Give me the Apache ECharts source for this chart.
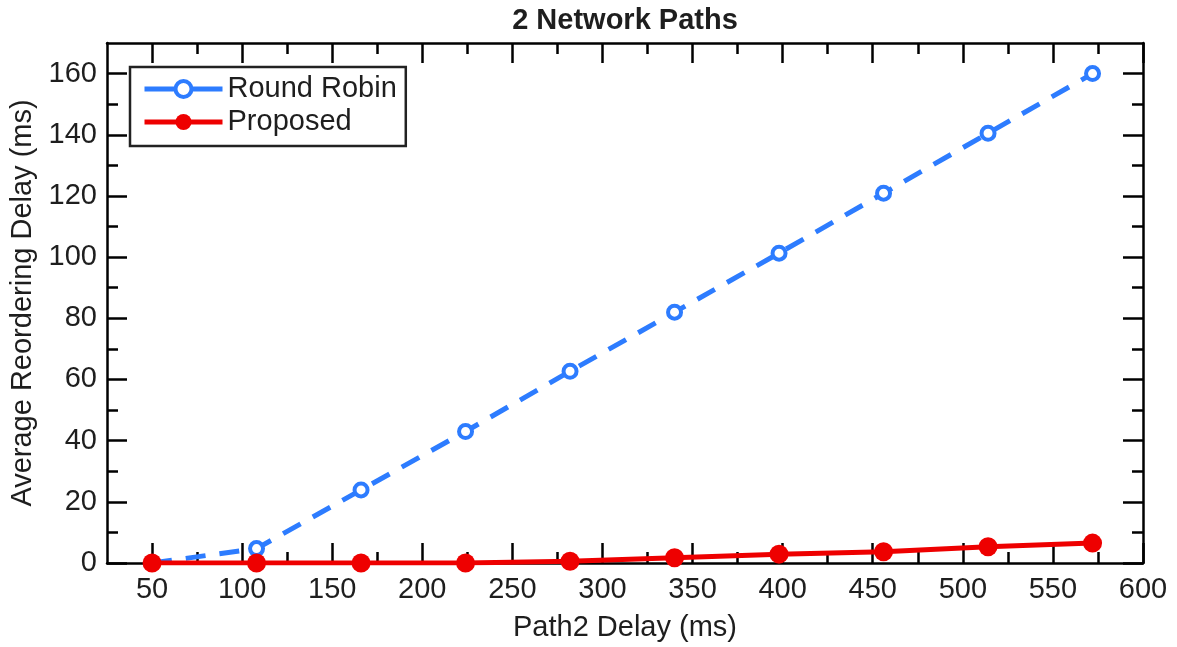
<!DOCTYPE html>
<html>
<head>
<meta charset="utf-8">
<script src="https://cdn.jsdelivr.net/npm/echarts@6/dist/echarts.min.js"></script>
<style>html,body{margin:0;padding:0;background:#fff}#c{width:1177px;height:647px}</style>
</head>
<body>
<div id="c"></div>
<script>
var pathDelay = [50, 108, 166, 224, 282, 340, 398, 456, 514, 572];
var roundRobin = [0, 4.7, 23.9, 43, 62.7, 82, 101.3, 120.9, 140.5, 160];
var proposed = [0, 0, 0, 0, 0.6, 1.7, 2.9, 3.7, 5.3, 6.5];
var xMajorTicks = [50, 100, 150, 200, 250, 300, 350, 400, 450, 500, 550, 600];
var xMinorTicks = [75, 125, 175, 225, 275, 325, 375, 425, 475, 525, 575];
var yMajorTicks = [0, 20, 40, 60, 80, 100, 120, 140, 160];
var yMinorTicks = [10, 30, 50, 70, 90, 110, 130, 150];

var FONT = 'Liberation Sans, Arial, Helvetica, sans-serif';
var TXT = '#1e1e1e';
var BLUE = '#2d7cff';
var RED = '#ee0000';
var AX = {color: '#000', width: 2.5};

function zip(xs, ys) { return xs.map(function (x, i) { return [x, ys[i]]; }); }

function xAx(pos, ticks, len, showLine, showLabel, extra) {
  var o = {
    type: 'value', min: 25, max: 600, position: pos,
    axisLine: {show: showLine, onZero: false, lineStyle: AX},
    axisTick: {show: true, inside: true, length: len, customValues: ticks, lineStyle: AX},
    axisLabel: {show: showLabel, customValues: ticks, fontSize: 29, color: TXT, fontFamily: FONT, margin: 12},
    splitLine: {show: false}
  };
  return Object.assign(o, extra || {});
}
function yAx(pos, ticks, len, showLine, showLabel, extra) {
  var o = {
    type: 'value', min: 0, max: 170, position: pos,
    axisLine: {show: showLine, onZero: false, lineStyle: AX},
    axisTick: {show: true, inside: true, length: len, customValues: ticks, lineStyle: AX},
    axisLabel: {show: showLabel, customValues: ticks, fontSize: 29, color: TXT, fontFamily: FONT, margin: 10},
    splitLine: {show: false}
  };
  return Object.assign(o, extra || {});
}

var chart = echarts.init(document.getElementById('c'), null, {renderer: 'canvas'});
chart.setOption({
  animation: false,
  backgroundColor: '#fff',
  title: {
    text: '2 Network Paths', left: 625, top: 6, padding: 0, textAlign: 'center',
    textStyle: {fontSize: 29, fontWeight: 'bold', color: TXT, fontFamily: FONT}
  },
  grid: {left: 107, right: 34, top: 43, bottom: 84, containLabel: false, outerBoundsMode: 'none'},
  legend: {
    left: 130, top: 67, orient: 'vertical',
    padding: [7, 9, 9, 12],
    borderColor: '#222', borderWidth: 2.5,
    itemWidth: 78, itemHeight: 20, itemGap: 3,
    textStyle: {fontSize: 29, color: TXT, fontFamily: FONT, lineHeight: 30},
    data: [
      {name: 'Round Robin', lineStyle: {type: 'solid', width: 5}, itemStyle: {borderWidth: 4}},
      {name: 'Proposed', lineStyle: {width: 5}}
    ]
  },
  xAxis: [
    xAx('bottom', xMajorTicks, 20, true, true, {
      name: 'Path2 Delay (ms)', nameLocation: 'middle', nameGap: 50,
      nameTextStyle: {fontSize: 29, color: TXT, fontFamily: FONT}
    }),
    xAx('bottom', xMinorTicks, 11, false, false),
    xAx('top', xMajorTicks, 20, true, false),
    xAx('top', xMinorTicks, 11, false, false)
  ],
  yAxis: [
    yAx('left', yMajorTicks, 20, true, true, {
      name: 'Average Reordering Delay (ms)', nameLocation: 'middle', nameGap: 67,
      nameTextStyle: {fontSize: 29, color: TXT, fontFamily: FONT}
    }),
    yAx('left', yMinorTicks, 11, false, false),
    yAx('right', yMajorTicks, 20, true, false),
    yAx('right', yMinorTicks, 11, false, false)
  ],
  series: [
    {
      name: 'Round Robin', type: 'line', xAxisIndex: 0, yAxisIndex: 0,
      data: zip(pathDelay, roundRobin),
      symbol: 'circle', symbolSize: 13,
      itemStyle: {color: '#fff', borderColor: BLUE, borderWidth: 4},
      lineStyle: {color: BLUE, width: 5, type: [20, 14]},
      z: 3
    },
    {
      name: 'Proposed', type: 'line', xAxisIndex: 0, yAxisIndex: 0,
      data: zip(pathDelay, proposed),
      symbol: 'circle', symbolSize: 19,
      itemStyle: {color: RED},
      lineStyle: {color: RED, width: 5},
      z: 4
    }
  ]
});
</script>
</body>
</html>
